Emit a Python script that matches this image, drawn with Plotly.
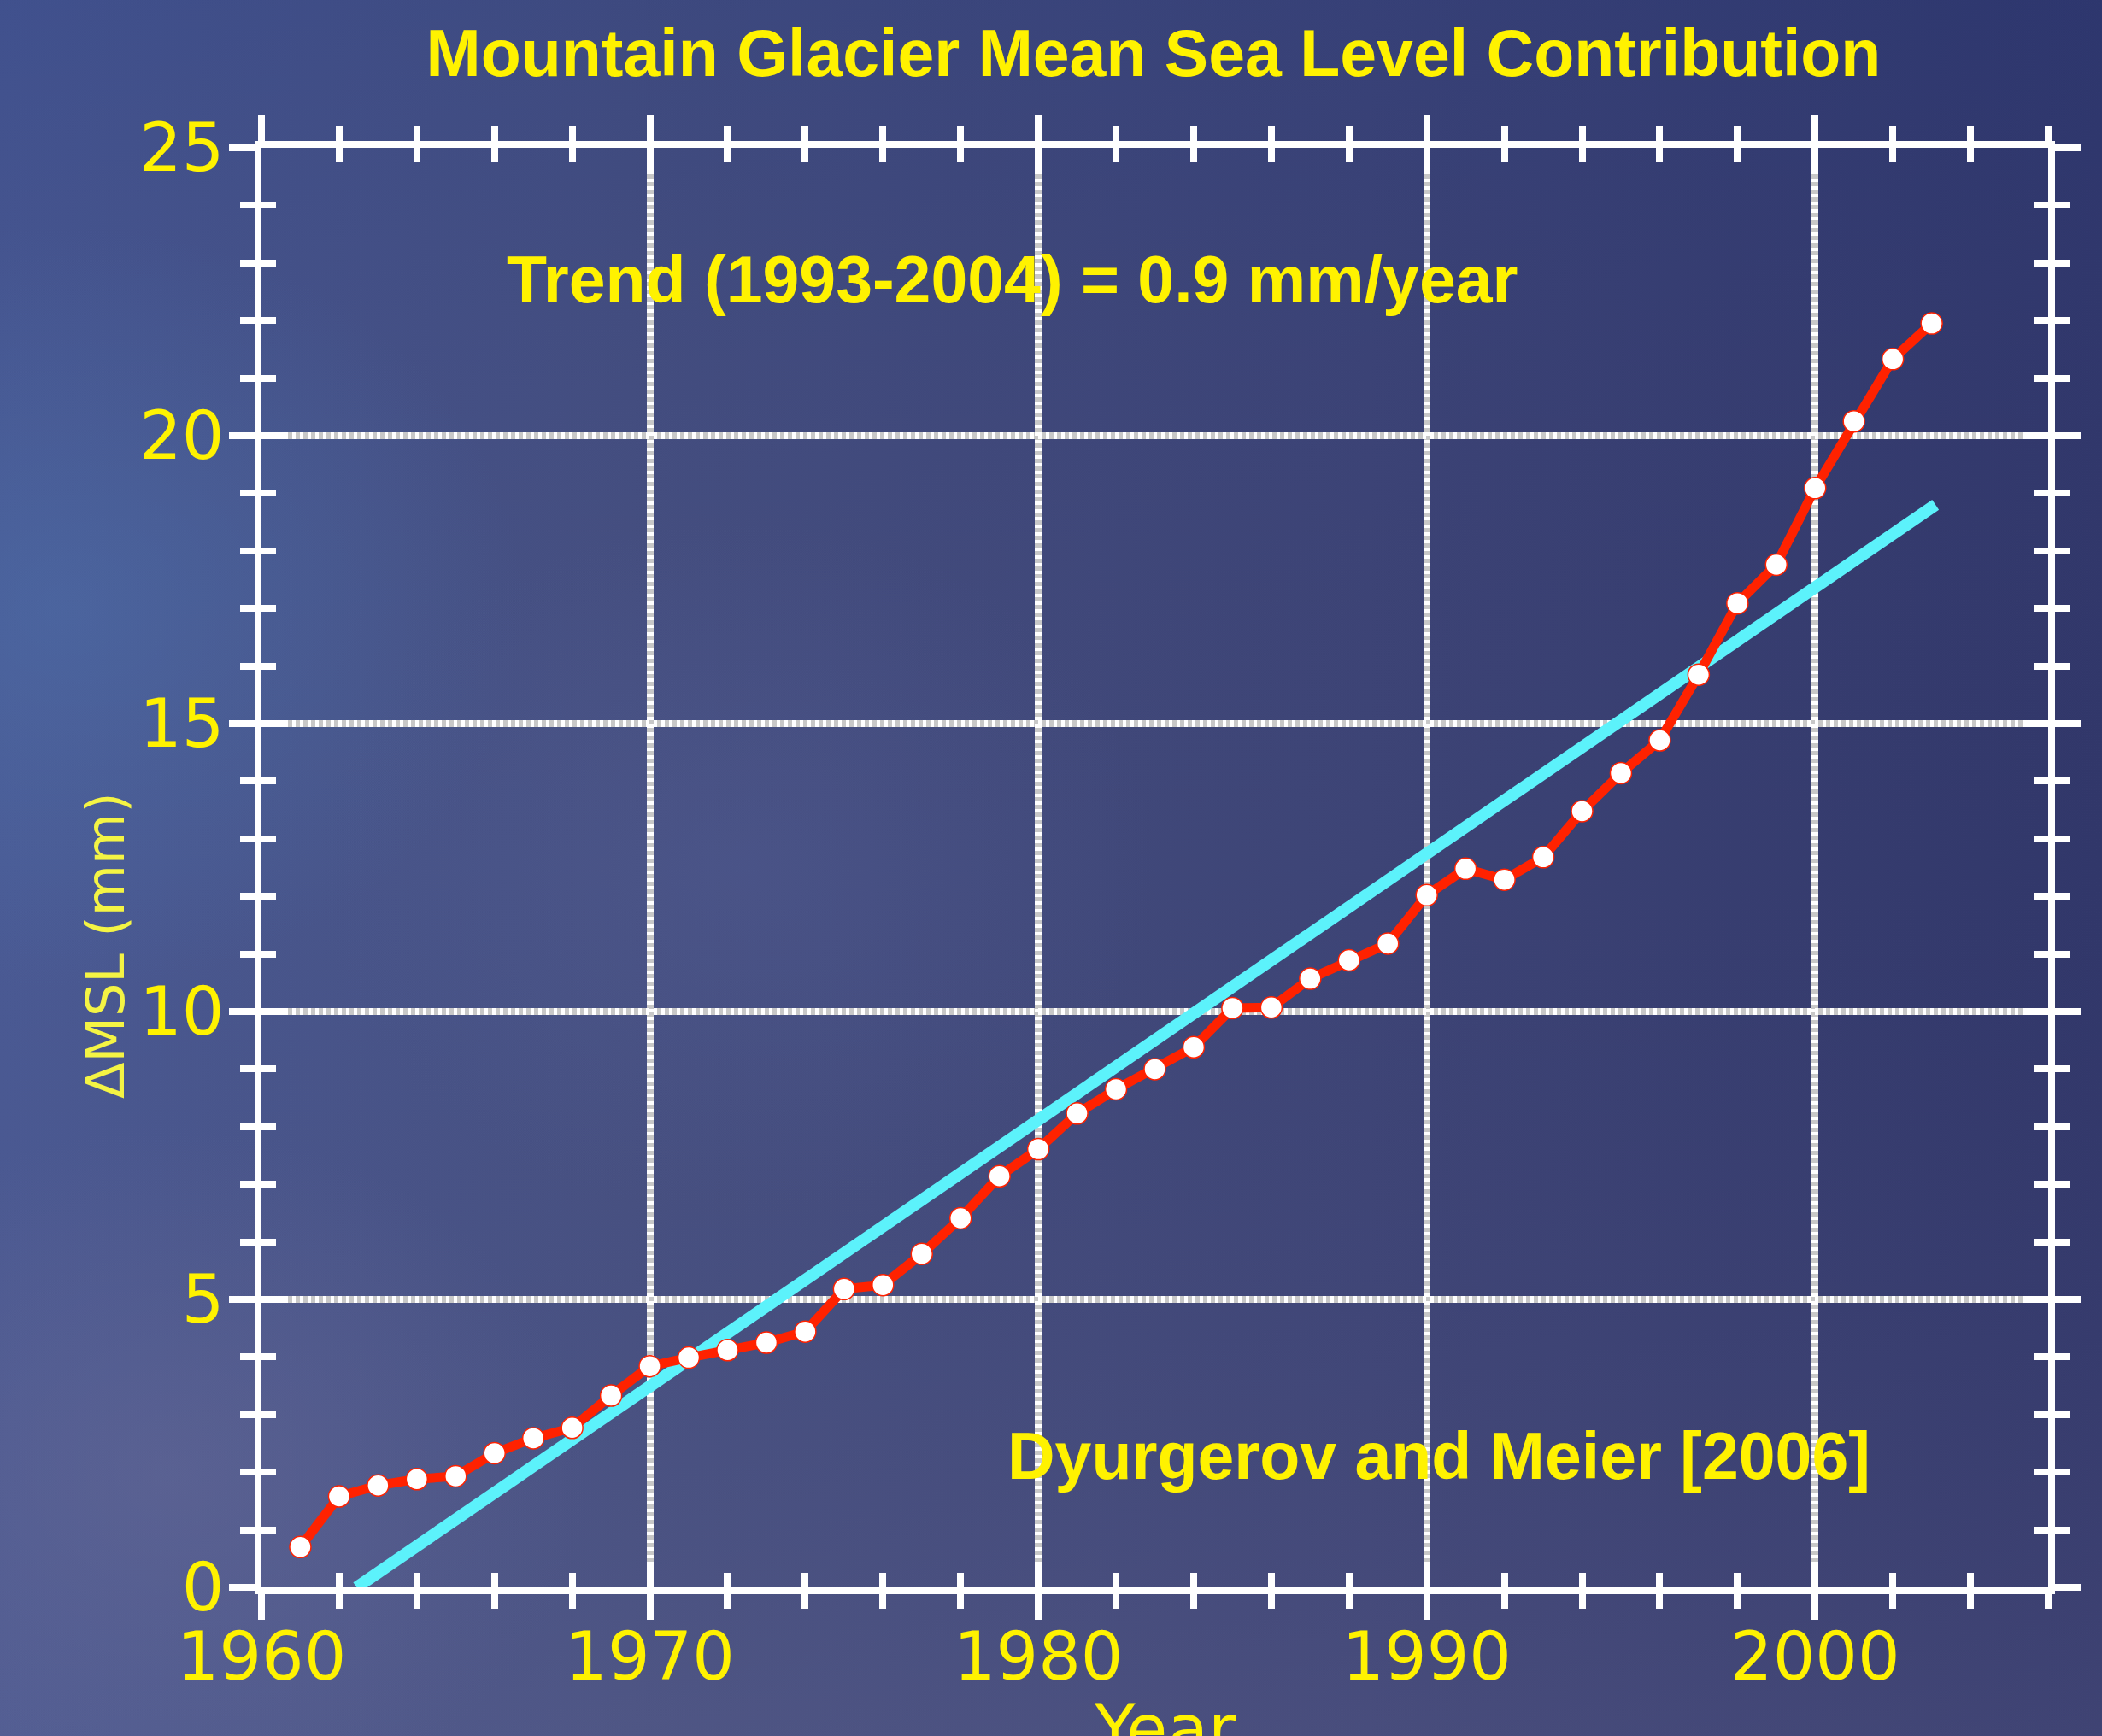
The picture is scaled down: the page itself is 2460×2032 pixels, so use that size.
import base64
import plotly.graph_objects as go

# ---------------- data ----------------
years = list(range(1961, 2004))
msl_mm = [0.70, 1.58, 1.77, 1.88, 1.93, 2.33, 2.59, 2.77, 3.33, 3.84,
          3.99, 4.12, 4.25, 4.44, 5.18, 5.25, 5.79, 6.41, 7.14, 7.61,
          8.23, 8.65, 9.00, 9.38, 10.06, 10.07, 10.57, 10.89, 11.18, 12.02,
          12.48, 12.29, 12.68, 13.48, 14.14, 14.71, 15.85, 17.09, 17.76, 19.09,
          20.25, 21.33, 21.95]
trend_years = [1962.45, 2003.1]
trend_mm = [0.0, 18.8]
x_range = [1960, 2006]
y_range = [0, 25]
x_ticks = [1960, 1970, 1980, 1990, 2000]
y_ticks = [0, 5, 10, 15, 20, 25]

title_text = "Mountain Glacier Mean Sea Level Contribution"
trend_label = "Trend (1993-2004) = 0.9 mm/year"
source_label = "Dyurgerov and Meier [2006]"
y_title = "ΔMSL (mm)"
x_title = "Year"

# ---------------- geometry ----------------
W, H = 2460, 2032
ML, MR, MT, MB = 306, 63, 173, 174
PW, PH = W - ML - MR, H - MT - MB

def px_x(p):
    return (p - ML) / PW

def px_y(p):
    return (H - MB - p) / PH

YEL = "#fff200"
BOLD = "Liberation Sans"
REG = "DejaVu Sans"

# ---------------- background ----------------
svg = f"""<svg xmlns='http://www.w3.org/2000/svg' width='{W}' height='{H}' viewBox='0 0 {W} {H}'>
<defs>
<linearGradient id='g' x1='0' y1='0' x2='1' y2='0'>
<stop offset='0' stop-color='#4a5a94'/>
<stop offset='0.3' stop-color='#465081'/>
<stop offset='0.65' stop-color='#3d4476'/>
<stop offset='1' stop-color='#31376a'/>
</linearGradient>
<linearGradient id='v' x1='0' y1='0' x2='0' y2='1'>
<stop offset='0' stop-color='#23357a' stop-opacity='0.25'/>
<stop offset='0.5' stop-color='#404070' stop-opacity='0'/>
<stop offset='1' stop-color='#6a6890' stop-opacity='0.25'/>
</linearGradient>
<radialGradient id='r1' cx='0.03' cy='0.35' r='0.22'>
<stop offset='0' stop-color='#4f78b4' stop-opacity='0.4'/>
<stop offset='1' stop-color='#4f78b4' stop-opacity='0'/>
</radialGradient>
<radialGradient id='r2' cx='0.08' cy='0.85' r='0.2'>
<stop offset='0' stop-color='#6a6c98' stop-opacity='0.45'/>
<stop offset='1' stop-color='#6a6c98' stop-opacity='0'/>
</radialGradient>
<radialGradient id='r3' cx='0.35' cy='0.5' r='0.2'>
<stop offset='0' stop-color='#56609a' stop-opacity='0.3'/>
<stop offset='1' stop-color='#56609a' stop-opacity='0'/>
</radialGradient>
</defs>
<rect width='{W}' height='{H}' fill='url(#g)'/>
<rect width='{W}' height='{H}' fill='url(#v)'/>
<rect width='{W}' height='{H}' fill='url(#r1)'/>
<rect width='{W}' height='{H}' fill='url(#r2)'/>
<rect width='{W}' height='{H}' fill='url(#r3)'/>
</svg>"""
bg_src = "data:image/svg+xml;base64," + base64.b64encode(svg.encode()).decode()

# ---------------- traces ----------------
fig = go.Figure()
fig.add_trace(go.Scatter(
    x=trend_years, y=trend_mm, mode="lines",
    line=dict(color="#5cf2fb", width=14),
    hoverinfo="skip", showlegend=False))
fig.add_trace(go.Scatter(
    x=years, y=msl_mm, mode="lines+markers",
    line=dict(color="#ff2200", width=11),
    marker=dict(size=25, color="white", line=dict(color="#ff2200", width=1.5)),
    showlegend=False))
# empty trace to instantiate the overlay axes (inside ticks)
fig.add_trace(go.Scatter(x=[], y=[], xaxis="x2", yaxis="y2",
                         showlegend=False, hoverinfo="skip"))

common_tick = dict(tickcolor="white", tickwidth=8)

fig.update_layout(
    width=W, height=H, autosize=False,
    margin=dict(l=ML, r=MR, t=MT, b=MB, pad=0),
    paper_bgcolor="#414a7c",
    plot_bgcolor="rgba(0,0,0,0)",
    showlegend=False,
    images=[dict(source=bg_src, xref="paper", yref="paper",
                 x=-ML / PW, y=1 + MT / PH, sizex=W / PW, sizey=H / PH,
                 xanchor="left", yanchor="top", sizing="stretch", layer="below")],
    xaxis=dict(
        range=x_range, tickmode="array", tickvals=x_ticks,
        ticks="outside", ticklen=30, **common_tick,
        minor=dict(tick0=1960, dtick=2, ticks="outside", ticklen=17,
                   tickcolor="white", tickwidth=8, showgrid=False),
        showline=True, linewidth=8, linecolor="white", mirror="ticks",
        showgrid=True, gridcolor="#c8c8c8", gridwidth=8, griddash="0px,4px,5px,0px",
        zeroline=False, ticklabelstandoff=-24,
        tickfont=dict(family=REG, size=78, color=YEL),
    ),
    yaxis=dict(
        range=y_range, tickmode="array", tickvals=y_ticks,
        ticks="outside", ticklen=30, **common_tick,
        minor=dict(tick0=0, dtick=1, ticks="outside", ticklen=17,
                   tickcolor="white", tickwidth=8, showgrid=False),
        showline=True, linewidth=8, linecolor="white", mirror="ticks",
        showgrid=True, gridcolor="#c8c8c8", gridwidth=8, griddash="0px,4px,5px,0px",
        zeroline=False, ticklabelstandoff=-10,
        tickfont=dict(family=REG, size=78, color=YEL),
    ),
    xaxis2=dict(
        overlaying="x", anchor="y2", side="bottom", range=x_range,
        tickmode="array", tickvals=x_ticks,
        ticks="inside", ticklen=30, **common_tick,
        minor=dict(tick0=1960, dtick=2, ticks="inside", ticklen=17,
                   tickcolor="white", tickwidth=8, showgrid=False),
        mirror="ticks", showline=False, showticklabels=False,
        showgrid=True, gridcolor="white", gridwidth=8, griddash="4px,5px",
        zeroline=False,
    ),
    yaxis2=dict(
        overlaying="y", anchor="x2", side="left", range=y_range,
        tickmode="array", tickvals=y_ticks,
        ticks="inside", ticklen=30, **common_tick,
        minor=dict(tick0=0, dtick=1, ticks="inside", ticklen=17,
                   tickcolor="white", tickwidth=8, showgrid=False),
        mirror="ticks", showline=False, showticklabels=False,
        showgrid=True, gridcolor="white", gridwidth=8, griddash="4px,5px",
        zeroline=False,
    ),
    title=dict(text=title_text, xref="container", yref="container",
               x=1350 / W, y=1 - 35 / H, xanchor="center", yanchor="top",
               font=dict(family=BOLD, size=77, color=YEL, weight="bold")),
    annotations=[
        dict(text=trend_label, xref="paper", yref="paper",
             x=px_x(591), y=px_y(327), xanchor="left", yanchor="middle",
             showarrow=False,
             font=dict(family=BOLD, size=77, color=YEL, weight="bold")),
        dict(text=source_label, xref="paper", yref="paper",
             x=px_x(1177), y=px_y(1704), xanchor="left", yanchor="middle",
             showarrow=False,
             font=dict(family=BOLD, size=77, color=YEL, weight="bold")),
        dict(text=y_title, xref="paper", yref="paper",
             x=px_x(123), y=px_y(1107), xanchor="center", yanchor="middle",
             textangle=-90, showarrow=False,
             font=dict(family=REG, size=62, color="#f4f444")),
        dict(text=x_title, xref="paper", yref="paper",
             x=px_x(1363), y=px_y(2024), xanchor="center", yanchor="middle",
             showarrow=False,
             font=dict(family=REG, size=78, color=YEL)),
    ],
)

fig.write_html(
    "out.html",
    config={"displayModeBar": False, "responsive": False},
    post_script=("document.documentElement.style.overflow='hidden';"
                 "document.body.style.overflow='hidden';"
                 "document.body.style.margin='0';"
                 "document.body.style.background='#414a7c';"),
)
